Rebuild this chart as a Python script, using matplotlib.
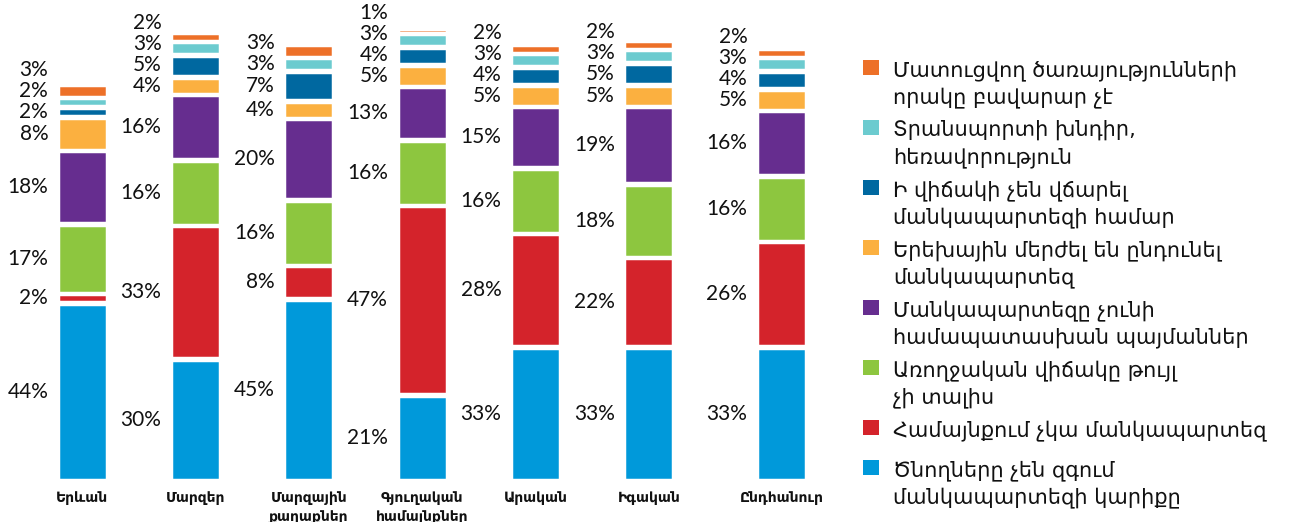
import matplotlib
matplotlib.use('agg')
import matplotlib.pyplot as plt
from matplotlib.patches import Rectangle
import numpy as np

# bar groups
categories = ['Երևան', 'Մարզեր', 'Մարզային\nքաղաքներ', 'Գյուղական\nհամայնքներ', 'Արական', 'Իգական', 'Ընդհանուր']

# stack order, bottom to top
reasons = [
  'Ծնողները չեն զգում\nմանկապարտեզի կարիքը',
  'Համայնքում չկա մանկապարտեզ',
  'Առողջական վիճակը թույլ\nչի տալիս',
  'Մանկապարտեզը չունի\nհամապատասխան պայմաններ',
  'Երեխային մերժել են ընդունել\nմանկապարտեզ',
  'Ի վիճակի չեն վճարել\nմանկապարտեզի համար',
  'Տրանսպորտի խնդիր,\nհեռավորություն',
  'Մատուցվող ծառայությունների\nորակը բավարար չէ',
]
colors = ['#0099da', '#d4232b', '#8dc63f', '#662d8f', '#fbb040', '#0068a0', '#6ccbcf', '#ed7028']

parents_no_need = [44, 30, 45, 21, 33, 33, 33]
no_kindergarten = [2, 33, 8, 47, 28, 22, 26]
health = [17, 16, 16, 16, 16, 18, 16]
poor_conditions = [18, 16, 20, 13, 15, 19, 16]
refused = [8, 4, 4, 5, 5, 5, 5]
cannot_pay = [2, 5, 7, 4, 4, 5, 4]
transport = [2, 3, 3, 3, 3, 3, 3]
low_quality = [3, 2, 3, 1, 2, 2, 2]

series = [parents_no_need, no_kindergarten, health, poor_conditions,
          refused, cannot_pay, transport, low_quality]

W, H = 1289, 522
px_per_unit = 4.0     # pixels per percent
gap = 0.4             # extra spacing between stacked segments
min_sep = 5.25        # minimum label spacing, in percent units

fig = plt.figure(figsize=(W / 100, H / 100), dpi=100)
fig.set_facecolor('white')

ax = fig.add_axes([0, 42 / H, 840 / W, 480 / H])
ax.set_ylim(0, 480 / px_per_unit)
ax.set_xlim(-0.7264, 6.687)
ax.axis('off')

x = np.arange(len(categories), dtype=float)
x[-1] += 0.17
bar_w = 0.432

data = np.array(series, dtype=float)
for i in range(len(categories)):
  bottom = 0.0
  centers = []
  for k in range(len(series)):
    v = data[k, i]
    ax.bar(x[i], v, bottom=bottom, width=bar_w, color=colors[k],
           edgecolor='white', linewidth=2.5)
    centers.append(bottom + v / 2)
    bottom += v + gap

  # push crowded labels upward so they do not overlap
  ys = list(centers)
  for k in range(1, len(ys)):
    if ys[k] - ys[k - 1] < min_sep:
      ys[k] = ys[k - 1] + min_sep

  for k in range(len(series)):
    ax.text(x[i] - bar_w / 2 - 0.085, ys[k], f'{int(data[k, i])}%',
            ha='right', va='center', fontsize=15, color='#111111',
            family=['Lato', 'DejaVu Sans'])

# category names under the bars
for i, name in enumerate(categories):
  xf = ax.transData.transform((x[i], 0))[0] / W
  fig.text(xf, 1 - 491 / H, name, ha='center', va='top', fontsize=10,
           fontweight='bold', color='#111111', linespacing=1.45,
           family=['DejaVu Sans'])

# legend on the right, top entry first
lax = fig.add_axes([0, 0, 1, 1])
lax.set_xlim(0, W)
lax.set_ylim(H, 0)
lax.axis('off')

top = 60
for k in reversed(range(len(series))):
  lines = reasons[k].split('\n')
  lax.add_patch(Rectangle((863, top), 16, 15, color=colors[k], lw=0))
  for j, line in enumerate(lines):
    lax.text(893, top + 16 + j * 27.7, line, ha='left', va='baseline',
             fontsize=15, color='#111111', family=['DejaVu Sans'])
  top += 20 + 20 * len(lines)

fig.savefig('out.png', dpi=100)
plt.close(fig)
